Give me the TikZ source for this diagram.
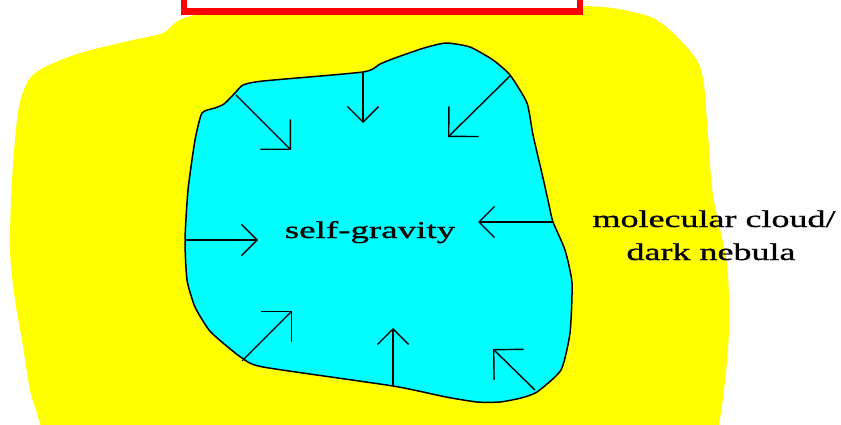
\documentclass[tikz,border=0pt]{standalone}
\usepackage{fontspec}
\setmainfont{Liberation Serif}
\newfontfamily\heavyserif{Liberation Serif}[FakeBold=0.8]
\usetikzlibrary{arrows.meta}
\definecolor{cloudyellow}{RGB}{255,255,0}
\definecolor{corecyan}{RGB}{0,255,255}
\definecolor{boxred}{RGB}{255,0,0}
\tikzset{
  pull/.style={draw=black, line width=1.4pt, -{Straight Barb[angle=90:30pt, line width=1.4pt]}},
  pullshort/.style={draw=black, line width=1.4pt, -{Straight Barb[angle=90:22pt, line width=1.4pt]}},
  lbl/.style={inner sep=0pt, anchor=base, font=\heavyserif\fontsize{24}{33}\selectfont}
}
\begin{document}
\begin{tikzpicture}[x=1pt,y=-1pt]
\useasboundingbox (0,0) rectangle (841,425);
\clip (0,0) rectangle (841,425);
% molecular cloud (yellow)
\fill[cloudyellow] plot[smooth cycle, tension=0.5] coordinates {
 (583,6) (637,13) (660,22) (682,42) (698,62) (704,85) (708,135) (713,195)
 (727,265) (729,330) (724,390) (717,440) (715,470) (712,520) (50,520) (47,470)
 (44,440) (37,413) (30,390) (22,340)
 (15,300) (10,250) (12,180) (17,120) (22,95) (30,78) (45,67) (80,53)
 (133,40) (163,33) (203,14) (400,8)};
% dense core (cyan)
\filldraw[fill=corecyan, draw=black, line width=1.5pt] plot[smooth cycle, tension=0.35] coordinates {
 (202,113) (215,108) (224,104) (235,93) (243,85) (263,81) (363,72) (380,64)
 (395,58) (424,48) (446,43) (470,47) (493,60) (510,75) (527,103) (533,135)
 (543,178) (549,205) (553,222) (565,250) (572,283) (570,333) (561,370)
 (537,392) (521,398) (500,402) (477,402) (446,397) (393,386) (263,367)
 (242,358) (223,343) (209,330) (195,307) (187,280) (185,240) (188,190) (195,140)};
% arrow end points
\coordinate (tlS) at (236,95);  \coordinate (tlE) at (291,150);
\coordinate (tS)  at (363,72);  \coordinate (tE)  at (363,123);
\coordinate (trS) at (510,76);  \coordinate (trE) at (448,137);
\coordinate (lS)  at (185,240); \coordinate (lE)  at (258,240);
\coordinate (rS)  at (553,222); \coordinate (rE)  at (478,222);
\coordinate (blS) at (242,361); \coordinate (blE) at (292,311);
\coordinate (bS)  at (393,386); \coordinate (bE)  at (393,328);
\coordinate (brS) at (535,390); \coordinate (brE) at (493,349);
\draw[pull] (tlS) -- (tlE);
\draw[pullshort] (tS) -- (tE);
\draw[pull] (trS) -- (trE);
\draw[pullshort] (lS) -- (lE);
\draw[pullshort] (rS) -- (rE);
\draw[pull] (blS) -- (blE);
\draw[pullshort] (bS) -- (bE);
\draw[pull] (brS) -- (brE);
% labels
\node[lbl] (grav) at (370,238) {\scalebox{1.54}[1]{self-gravity}};
\node[lbl] (mol) at (714,227) {\scalebox{1.50}[1]{molecular cloud/}};
\node[lbl] (dark) at (711,260) {\scalebox{1.50}[1]{dark nebula}};
% red frame at top
\draw[boxred, line width=6.5pt, fill=white] (184,-30) rectangle (580,11.5);
\end{tikzpicture}
\end{document}
